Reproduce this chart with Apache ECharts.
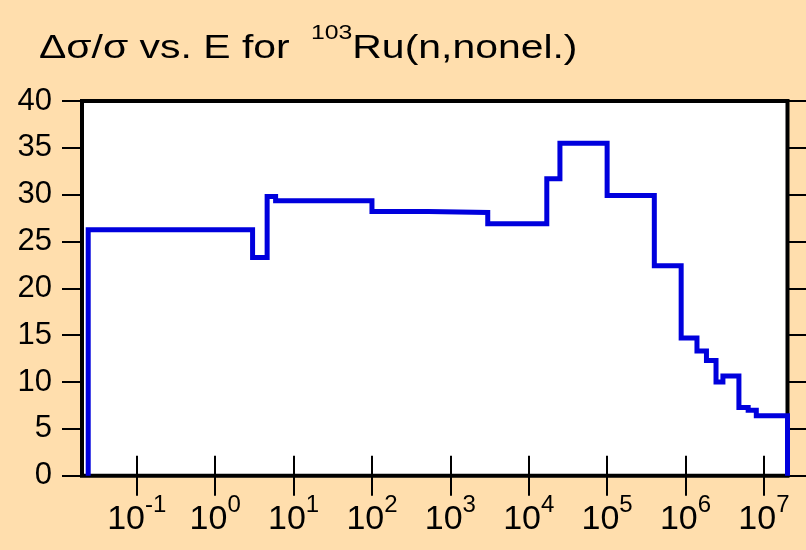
<!DOCTYPE html>
<html>
<head>
<meta charset="utf-8">
<script src="https://cdn.jsdelivr.net/npm/echarts@6/dist/echarts.min.js"></script>
<style>
  html, body { margin: 0; padding: 0; background: #FFDEAD; }
  #chart { width: 806px; height: 550px; }
</style>
</head>
<body>
<div id="chart"></div>
<script>
// Group boundaries of the energy grid (eV)
const groupBounds = [0.024, 3, 4.6, 5.9, 100, 520, 3000, 1.7e4, 2.5e4, 1e5,
  4e5, 8.8e5, 1.4e6, 1.85e6, 2.45e6, 3e6, 4.8e6, 6.3e6, 8e6, 2e7];
// Relative uncertainty in each group (%)
const groupUncert = [26.25, 23.3, 29.8, 29.35, 28.2, 28.1, 26.9, 31.7, 35.5, 29.9,
  22.4, 14.7, 13.3, 12.3, 10.0, 10.65, 7.27, 7.0, 6.4];
// Decade ticks on the energy axis
const decadeTicks = [0.1, 1, 10, 100, 1e3, 1e4, 1e5, 1e6, 1e7];
const energyRange = [0.02, 2e7];
const uncertRange = [0, 40];
const uncertStep = 5;

const FONT = 'Liberation Sans, Arial, sans-serif';

// Histogram outline: rise from zero, one level per group, drop back to zero
const last = groupBounds.length - 1;
const stepData = [[groupBounds[0], 0]];
groupUncert.forEach((v, i) => stepData.push([groupBounds[i], v]));
stepData.push([groupBounds[last], groupUncert[groupUncert.length - 1]]);
stepData.push([groupBounds[last], 0]);

const powerLabel = v => '{b|10}{s|' + Math.round(Math.log10(v)) + '}';

const tickStyle = { show: true, inside: false, length: 20, lineStyle: { color: '#000', width: 2 } };

const chart = echarts.init(document.getElementById('chart'), null, { renderer: 'canvas' });
chart.setOption({
  backgroundColor: '#FFDEAD',
  animation: false,
  grid: {
    left: 82, right: 18.5, top: 101, bottom: 74.3,
    show: true, backgroundColor: '#fff', borderColor: '#000', borderWidth: 4
  },
  graphic: [{
    type: 'text', x: 39, y: 23, scaleX: 1.24, z: 10,
    style: {
      text: '{m|Δσ/σ vs. E for }{s|103}{m|Ru(n,nonel.)}',
      align: 'left', verticalAlign: 'top', fill: '#000',
      rich: {
        m: { fontSize: 33, lineHeight: 42, verticalAlign: 'bottom', fontFamily: FONT, fill: '#000' },
        s: { fontSize: 20, lineHeight: 20, verticalAlign: 'top', fontFamily: FONT, fill: '#000', padding: [0, 0, 0, 8] }
      }
    }
  }],
  xAxis: [{
    type: 'log', logBase: 10, position: 'bottom',
    min: energyRange[0], max: energyRange[1],
    axisLine: { show: false },
    axisTick: Object.assign({ customValues: decadeTicks }, tickStyle),
    minorTick: { show: false },
    splitLine: { show: false },
    axisLabel: {
      customValues: decadeTicks, margin: 18, color: '#000',
      formatter: powerLabel,
      rich: {
        b: { fontSize: 34, lineHeight: 43, verticalAlign: 'bottom', fontFamily: FONT, color: '#000' },
        s: { fontSize: 24, lineHeight: 24, verticalAlign: 'top', fontFamily: FONT, color: '#000' }
      }
    }
  }, {
    type: 'log', logBase: 10, position: 'top',
    min: energyRange[0], max: energyRange[1],
    axisLine: { show: false },
    axisTick: Object.assign({ customValues: decadeTicks }, tickStyle),
    minorTick: { show: false },
    splitLine: { show: false },
    axisLabel: { show: false }
  }],
  yAxis: [{
    type: 'value', position: 'left',
    min: uncertRange[0], max: uncertRange[1], interval: uncertStep,
    axisLine: { show: false },
    axisTick: tickStyle,
    splitLine: { show: false },
    axisLabel: { margin: 30, fontSize: 31, fontFamily: FONT, color: '#000' }
  }, {
    type: 'value', position: 'right',
    min: uncertRange[0], max: uncertRange[1], interval: uncertStep,
    axisLine: { show: false },
    axisTick: tickStyle,
    splitLine: { show: false },
    axisLabel: { show: false }
  }],
  series: [{
    type: 'line', xAxisIndex: 0, yAxisIndex: 0,
    step: 'end', data: stepData,
    showSymbol: false, symbol: 'none', clip: false,
    lineStyle: { color: '#0000DD', width: 5, join: 'miter', cap: 'butt' },
    z: 3
  }]
});
</script>
</body>
</html>
